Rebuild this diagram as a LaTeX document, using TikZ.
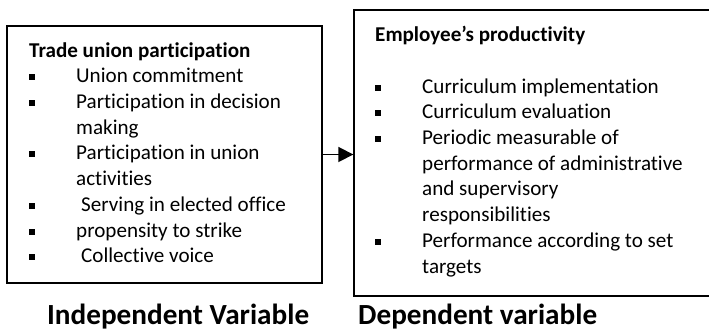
\documentclass[tikz,border=0pt]{standalone}
\usepackage{fontspec}
\setmainfont{Carlito}[Ligatures={TeX,NoCommon}]
\usetikzlibrary{arrows.meta}
\newcommand{\sqbul}{\rule[2.5pt]{6pt}{6pt}}
\newcommand{\bitem}[1]{\makebox[47pt][l]{\sqbul}#1}
\newcommand{\bcont}[1]{\hspace*{47pt}#1}

\begin{document}
\begin{tikzpicture}[x=1pt,y=-1pt]
	\tikzstyle{every node}+=[inner sep=0pt]
	\tikzstyle{frame}=[draw=black,line width=1.4pt]
	\tikzstyle{list}=[anchor=north west,align=left,font=\fontsize{21.1}{25.7}\selectfont]
	\tikzstyle{caption}=[anchor=base west,font=\fontsize{29.2}{35}\selectfont\bfseries]
	\useasboundingbox (0,0) rectangle (709,336);
	% the two boxes
	\node [frame,minimum width=315pt,minimum height=257pt] (ivbox) at (164.5,154.5) {};
	\node [frame,minimum width=358pt,minimum height=286pt] (dvbox) at (533,153) {};
	% independent variable
	\node [list] (ivlist) at (29,39) {\rule{0pt}{18pt}\textbf{Trade union participation}\\
		\bitem{Union commitment}\\
		\bitem{Participation in decision}\\
		\bcont{making}\\
		\bitem{Participation in union}\\
		\bcont{activities}\\
		\bitem{\hspace{5pt}Serving in elected office}\\
		\bitem{propensity to strike}\\
		\bitem{\hspace{5pt}Collective voice}};
	% dependent variable
	\node [list] (dvlist) at (375,23.6) {\rule{0pt}{18pt}\textbf{Employee’s productivity}\\[25.7pt]
		\bitem{Curriculum implementation}\\
		\bitem{Curriculum evaluation}\\
		\bitem{Periodic measurable of}\\
		\bcont{performance of administrative}\\
		\bcont{and supervisory}\\
		\bcont{responsibilities}\\
		\bitem{Performance according to set}\\
		\bcont{targets}};
	\draw [line width=1.8pt,-{Triangle[length=15pt,width=15pt]}] (ivbox.east) -- (ivbox.east -| dvbox.west);
	% captions
	\node [caption] (ivcap) at (47,325) {Independent Variable};
	\node [caption] (dvcap) at (358,325) {Dependent variable};
\end{tikzpicture}
\end{document}
